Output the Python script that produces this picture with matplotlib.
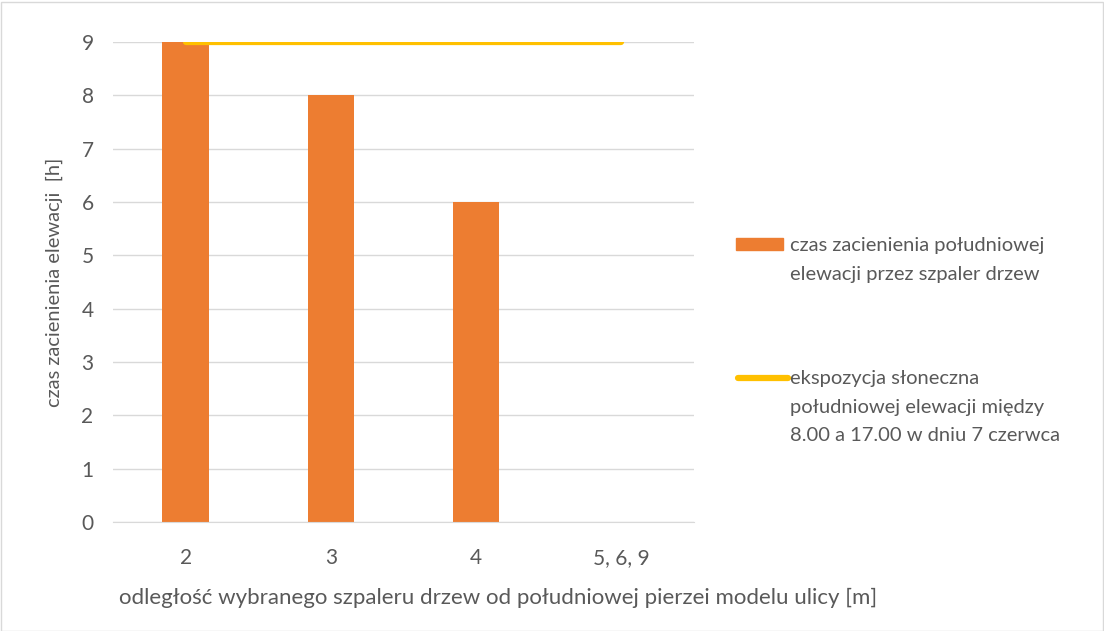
import matplotlib.pyplot as plt
from matplotlib.patches import Rectangle
from matplotlib.lines import Line2D

categories = ['2', '3', '4', '5, 6, 9']
shading_hours = [9, 8, 6, 0]
exposure_hours = [9, 9, 9, 9]

label_bar = 'czas zacienienia południowej\nelewacji przez szpaler drzew'
label_line = 'ekspozycja słoneczna\npołudniowej elewacji między\n8.00 a 17.00 w dniu 7 czerwca'

orange = '#ED7D31'
yellow = '#FFC000'
text_col = '#595959'
grid_col = '#D9D9D9'

plt.rcParams['font.family'] = ['Lato', 'DejaVu Sans']

fig = plt.figure(figsize=(11.04, 6.31), dpi=100)
ax = fig.add_axes([113 / 1104, 1 - 522 / 631, 581 / 1104, 480 / 631])

x = range(len(categories))
ax.bar(x, shading_hours, width=0.32, color=orange, zorder=2)
ax.plot(x, exposure_hours, color=yellow, lw=4.5, solid_capstyle='round', zorder=3)

ax.set_xlim(-0.5, len(categories) - 0.5)
ax.set_ylim(0, 9)
ax.set_yticks(range(0, 10))
ax.set_xticks(list(x))
ax.set_xticklabels(categories)
ax.grid(axis='y', color=grid_col, lw=1, zorder=0)
ax.set_axisbelow(True)
for s in ['top', 'right', 'left']:
    ax.spines[s].set_visible(False)
ax.spines['bottom'].set_color(grid_col)
ax.tick_params(length=0, colors=text_col, labelsize=15)
ax.tick_params(axis='x', pad=19)
ax.tick_params(axis='y', pad=14)

ax.set_ylabel('czas zacienienia elewacji  [h]', color=text_col, fontsize=14.5, labelpad=13)
ax.set_xlabel('odległość wybranego szpaleru drzew od południowej pierzei modelu ulicy [m]',
              color=text_col, fontsize=16)
ax.xaxis.set_label_coords((498 - 113) / 581, -(598 - 522) / 480)
ax.xaxis.label.set_va('center')

# legend drawn by hand so the keys sit on the first text line
fig.patches.append(Rectangle((736 / 1104, 1 - 250 / 631), 47 / 1104, 12 / 631,
                             transform=fig.transFigure, color=orange))
fig.lines.append(Line2D([738 / 1104, 788 / 1104], [1 - 378 / 631, 1 - 378 / 631],
                        transform=fig.transFigure, color=yellow, lw=4.5,
                        solid_capstyle='round'))
fig.text(790 / 1104, 1 - 237 / 631, label_bar, color=text_col, fontsize=14.5,
         va='top', ha='left', linespacing=1.83)
fig.text(790 / 1104, 1 - 370 / 631, label_line, color=text_col, fontsize=14.5,
         va='top', ha='left', linespacing=1.83)

fig.patches.append(Rectangle((0.5 / 1104, 0.5 / 631), 1102 / 1104, 629 / 631,
                             transform=fig.transFigure, fill=False,
                             edgecolor=grid_col, lw=1))

fig.savefig('out.png', dpi=100)
